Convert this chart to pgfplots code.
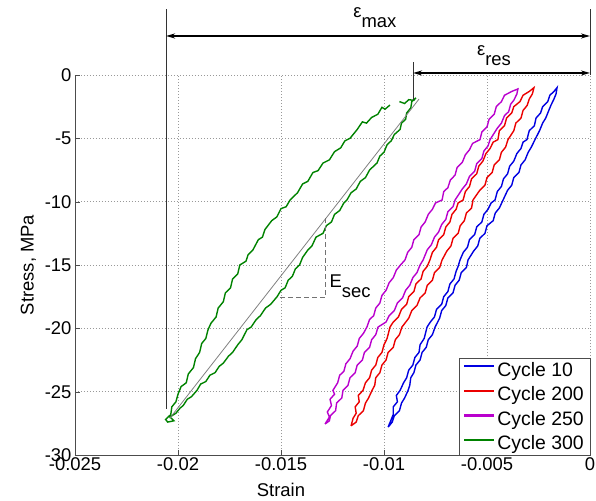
\documentclass[border=0pt]{standalone}
\usepackage{pgfplots}
\pgfplotsset{compat=1.18}
\usepackage{fontspec}
\setmainfont{Liberation Sans}
\usetikzlibrary{arrows.meta}

\definecolor{cblue}{RGB}{0,0,225}
\definecolor{cred}{RGB}{235,0,0}
\definecolor{cmag}{RGB}{185,0,205}
\definecolor{cgreen}{RGB}{0,130,0}

\newcommand{\lbl}{\fontsize{18.5}{21}\selectfont}
\newcommand{\leg}{\fontsize{19.5}{22}\selectfont}

\begin{document}
\begin{tikzpicture}
\begin{axis}[
    at={(0,0)}, anchor=south west,
    scale only axis,
    width=515bp, height=380bp,
    xmin=-0.025, xmax=0,
    ymin=-30, ymax=0,
    axis lines=left,
    axis line style={-, black!70},
    tick align=inside,
    major tick length=5bp,
    tick style={black!70},
    scaled x ticks=false,
    xtick={-0.025,-0.02,-0.015,-0.01,-0.005,0},
    xticklabels={-0.025,-0.02,-0.015,-0.01,-0.005,0},
    ytick={-30,-25,-20,-15,-10,-5,0},
    yticklabels={-30,-25,-20,-15,-10,-5,0},
    tick label style={font=\lbl},
    xticklabel style={yshift=1bp},
    grid=major,
    grid style={black!40, dash pattern=on 1bp off 2bp, line width=0.6bp},
    xlabel={Strain},
    ylabel={Stress, MPa},
    label style={font=\lbl},
    xlabel style={at={(axis description cs:0.40,0)}, anchor=north, yshift=-25bp},
    ylabel style={yshift=2bp},
    clip=false,
    legend style={at={(1,0)}, anchor=south east, draw=black!70, fill=white,
        font=\leg, row sep=5bp, inner xsep=4bp, inner ysep=1.5bp},
    legend cell align=left,
    legend image code/.code={\draw[#1, line width=2.2bp] (0bp,3.5bp) -- (30bp,3.5bp);},
    every axis plot/.append style={line width=1.4bp},
]
% Cycle 10
\addplot[cblue] coordinates {
(-0.00980,-27.80) (-0.00965,-27.20) (-0.00955,-26.80) (-0.00955,-26.20) (-0.00935,-25.80) (-0.00940,-25.30)
(-0.00922,-24.90) (-0.00905,-24.30) (-0.00890,-23.90) (-0.00880,-23.30) (-0.00860,-22.90) (-0.00850,-22.30)
(-0.00830,-21.90) (-0.00825,-21.30) (-0.00805,-20.80) (-0.00791,-19.90) (-0.00775,-19.50) (-0.00755,-19.10)
(-0.00745,-18.50) (-0.00720,-18.10) (-0.00710,-17.50) (-0.00690,-17.10) (-0.00680,-16.50) (-0.00660,-16.10)
(-0.00650,-15.50) (-0.00640,-15.10) (-0.00631,-14.60) (-0.00615,-14.00) (-0.00595,-13.60) (-0.00585,-13.00)
(-0.00560,-12.60) (-0.00550,-12.00) (-0.00525,-11.60) (-0.00515,-11.00) (-0.00495,-10.60) (-0.00480,-10.10)
(-0.00461,-9.87) (-0.00450,-9.20) (-0.00430,-8.80) (-0.00420,-8.20) (-0.00400,-7.80) (-0.00390,-7.20)
(-0.00370,-6.80) (-0.00355,-6.20) (-0.00335,-5.80) (-0.00325,-5.30) (-0.00306,-5.10) (-0.00295,-4.40)
(-0.00270,-4.00) (-0.00262,-3.40) (-0.00240,-3.00) (-0.00230,-2.50) (-0.00205,-2.10) (-0.00195,-1.60)
(-0.00175,-1.30) (-0.00160,-1.00)
(-0.00165,-1.50) (-0.00175,-1.90) (-0.00190,-2.40) (-0.00200,-2.80) (-0.00215,-3.40) (-0.00230,-3.80)
(-0.00245,-4.40) (-0.00267,-5.10) (-0.00285,-5.70) (-0.00300,-6.10) (-0.00315,-6.70) (-0.00335,-7.10)
(-0.00345,-7.70) (-0.00370,-8.10) (-0.00380,-8.70) (-0.00400,-9.10) (-0.00422,-9.87) (-0.00440,-10.50)
(-0.00460,-10.90) (-0.00470,-11.50) (-0.00500,-11.90) (-0.00510,-12.50) (-0.00535,-12.90) (-0.00545,-13.50)
(-0.00565,-13.90) (-0.00592,-14.60) (-0.00600,-15.20) (-0.00625,-15.60) (-0.00635,-16.20) (-0.00655,-16.60)
(-0.00665,-17.20) (-0.00690,-17.60) (-0.00700,-18.20) (-0.00720,-18.60) (-0.00730,-19.20) (-0.00752,-19.90)
(-0.00765,-20.50) (-0.00785,-20.90) (-0.00795,-21.50) (-0.00815,-21.90) (-0.00825,-22.50) (-0.00845,-22.90)
(-0.00855,-23.50) (-0.00870,-23.90) (-0.00875,-24.50) (-0.00883,-24.90) (-0.00900,-25.50) (-0.00915,-25.90)
(-0.00925,-26.50) (-0.00950,-26.90) (-0.00960,-27.40) (-0.00980,-27.80)
};
\addlegendentry{Cycle 10}
% Cycle 200
\addplot[cred] coordinates {
(-0.01160,-27.70) (-0.01150,-27.10) (-0.01135,-26.70) (-0.01140,-26.20) (-0.01120,-25.80) (-0.01125,-25.30)
(-0.01102,-24.90) (-0.01090,-24.30) (-0.01070,-23.90) (-0.01060,-23.30) (-0.01040,-22.90) (-0.01030,-22.30)
(-0.01010,-21.90) (-0.01000,-21.30) (-0.00985,-20.80) (-0.00971,-19.90) (-0.00955,-19.50) (-0.00930,-19.10)
(-0.00915,-18.50) (-0.00890,-18.10) (-0.00880,-17.50) (-0.00855,-17.10) (-0.00845,-16.50) (-0.00820,-16.10)
(-0.00810,-15.50) (-0.00790,-15.10) (-0.00777,-14.60) (-0.00765,-14.00) (-0.00745,-13.60) (-0.00735,-13.00)
(-0.00710,-12.60) (-0.00700,-12.00) (-0.00680,-11.60) (-0.00670,-11.00) (-0.00650,-10.60) (-0.00640,-10.10)
(-0.00616,-9.87) (-0.00605,-9.20) (-0.00585,-8.80) (-0.00575,-8.20) (-0.00550,-7.80) (-0.00540,-7.20)
(-0.00520,-6.80) (-0.00505,-6.20) (-0.00485,-5.80) (-0.00470,-5.30) (-0.00447,-5.10) (-0.00440,-4.40)
(-0.00415,-4.00) (-0.00405,-3.40) (-0.00380,-3.00) (-0.00370,-2.50) (-0.00340,-2.10) (-0.00325,-1.60)
(-0.00295,-1.30) (-0.00272,-1.00)
(-0.00280,-1.50) (-0.00295,-1.90) (-0.00305,-2.40) (-0.00325,-2.80) (-0.00335,-3.40) (-0.00360,-3.80)
(-0.00370,-4.40) (-0.00398,-5.10) (-0.00410,-5.70) (-0.00430,-6.10) (-0.00440,-6.70) (-0.00465,-7.10)
(-0.00475,-7.70) (-0.00500,-8.10) (-0.00510,-8.70) (-0.00535,-9.10) (-0.00568,-9.87) (-0.00575,-10.50)
(-0.00600,-10.90) (-0.00610,-11.50) (-0.00630,-11.90) (-0.00640,-12.50) (-0.00665,-12.90) (-0.00675,-13.50)
(-0.00695,-13.90) (-0.00718,-14.60) (-0.00730,-15.20) (-0.00755,-15.60) (-0.00765,-16.20) (-0.00790,-16.60)
(-0.00800,-17.20) (-0.00825,-17.60) (-0.00840,-18.20) (-0.00865,-18.60) (-0.00880,-19.20) (-0.00913,-19.90)
(-0.00925,-20.50) (-0.00945,-20.90) (-0.00955,-21.50) (-0.00980,-21.90) (-0.00990,-22.50) (-0.01010,-22.90)
(-0.01020,-23.50) (-0.01040,-23.90) (-0.01045,-24.50) (-0.01058,-24.90) (-0.01075,-25.50) (-0.01090,-25.90)
(-0.01100,-26.50) (-0.01125,-26.90) (-0.01135,-27.40) (-0.01160,-27.70)
};
\addlegendentry{Cycle 200}
% Cycle 250
\addplot[cmag] coordinates {
(-0.01286,-27.55) (-0.01265,-27.00) (-0.01275,-26.60) (-0.01255,-26.10) (-0.01262,-25.60) (-0.01240,-25.20)
(-0.01248,-24.90) (-0.01225,-24.30) (-0.01215,-23.70) (-0.01195,-23.40) (-0.01185,-22.80) (-0.01165,-22.40)
(-0.01150,-21.80) (-0.01130,-21.40) (-0.01120,-20.80) (-0.01100,-20.40) (-0.01083,-19.90) (-0.01070,-19.30)
(-0.01050,-19.00) (-0.01040,-18.40) (-0.01020,-18.00) (-0.01010,-17.40) (-0.00990,-17.00) (-0.00975,-16.40)
(-0.00955,-16.00) (-0.00940,-15.40) (-0.00920,-15.00) (-0.00898,-14.60) (-0.00885,-14.00) (-0.00865,-13.60)
(-0.00855,-13.00) (-0.00830,-12.60) (-0.00820,-12.00) (-0.00800,-11.60) (-0.00785,-11.00) (-0.00765,-10.60)
(-0.00750,-10.10) (-0.00718,-9.87) (-0.00710,-9.20) (-0.00690,-8.90) (-0.00678,-8.30) (-0.00655,-7.90)
(-0.00645,-7.30) (-0.00620,-6.90) (-0.00605,-6.30) (-0.00585,-5.90) (-0.00570,-5.40) (-0.00534,-5.10)
(-0.00525,-4.50) (-0.00500,-4.10) (-0.00490,-3.50) (-0.00465,-3.10) (-0.00455,-2.50) (-0.00430,-2.10)
(-0.00415,-1.60) (-0.00380,-1.30) (-0.00350,-1.10)
(-0.00355,-1.50) (-0.00370,-2.00) (-0.00385,-2.30) (-0.00395,-2.90) (-0.00415,-3.20) (-0.00430,-3.80)
(-0.00450,-4.20) (-0.00485,-5.10) (-0.00495,-5.60) (-0.00515,-6.00) (-0.00525,-6.60) (-0.00550,-7.00)
(-0.00560,-7.60) (-0.00585,-8.00) (-0.00600,-8.60) (-0.00620,-9.00) (-0.00655,-9.87) (-0.00665,-10.40)
(-0.00690,-10.80) (-0.00700,-11.40) (-0.00720,-11.80) (-0.00735,-12.40) (-0.00755,-12.80) (-0.00770,-13.40)
(-0.00790,-13.80) (-0.00810,-14.60) (-0.00825,-15.00) (-0.00840,-15.60) (-0.00860,-16.00) (-0.00875,-16.60)
(-0.00895,-17.00) (-0.00910,-17.60) (-0.00935,-18.00) (-0.00950,-18.60) (-0.00975,-19.00) (-0.00990,-19.50)
(-0.01029,-19.90) (-0.01040,-20.50) (-0.01060,-20.90) (-0.01070,-21.50) (-0.01095,-21.90) (-0.01105,-22.50)
(-0.01130,-22.90) (-0.01140,-23.50) (-0.01165,-23.90) (-0.01175,-24.50) (-0.01199,-24.90) (-0.01205,-25.50)
(-0.01230,-25.90) (-0.01235,-26.50) (-0.01260,-26.90) (-0.01265,-27.30) (-0.01286,-27.55)
};
\addlegendentry{Cycle 250}
% Cycle 300
\addplot[cgreen] coordinates {
(-0.00971,-2.37) (-0.00995,-2.70) (-0.01010,-2.55) (-0.01030,-3.10) (-0.01060,-3.35) (-0.01085,-3.80)
(-0.01105,-3.70) (-0.01130,-4.30) (-0.01165,-5.00) (-0.01190,-5.20) (-0.01210,-5.75) (-0.01240,-6.05)
(-0.01265,-6.70) (-0.01296,-6.95) (-0.01320,-7.55) (-0.01345,-7.70) (-0.01370,-8.40) (-0.01395,-8.60)
(-0.01420,-9.30) (-0.01456,-9.87) (-0.01475,-10.40) (-0.01500,-10.55) (-0.01520,-11.20) (-0.01545,-11.50)
(-0.01578,-12.20) (-0.01590,-12.80) (-0.01610,-13.00) (-0.01636,-13.80) (-0.01660,-14.20) (-0.01670,-14.70)
(-0.01700,-15.00) (-0.01710,-15.70) (-0.01735,-16.10) (-0.01745,-16.80) (-0.01770,-17.20) (-0.01780,-17.90)
(-0.01805,-18.40) (-0.01815,-19.10) (-0.01840,-19.60) (-0.01854,-20.10) (-0.01865,-20.80) (-0.01885,-21.20)
(-0.01895,-21.90) (-0.01915,-22.40) (-0.01925,-23.10) (-0.01950,-23.60) (-0.01960,-24.30) (-0.01985,-24.60)
(-0.02000,-25.20) (-0.02010,-25.80) (-0.02030,-26.20) (-0.02035,-26.80) (-0.02060,-27.20) (-0.02050,-27.40)
(-0.02020,-27.30)
(-0.02039,-27.00) (-0.02010,-26.70) (-0.01990,-26.30) (-0.01975,-26.10) (-0.01955,-25.60) (-0.01935,-25.40)
(-0.01908,-24.90) (-0.01890,-24.40) (-0.01865,-24.20) (-0.01845,-23.70) (-0.01820,-23.50) (-0.01800,-23.00)
(-0.01780,-22.75) (-0.01755,-22.20) (-0.01735,-21.90) (-0.01710,-21.30) (-0.01690,-20.90) (-0.01665,-20.10)
(-0.01645,-19.90) (-0.01620,-19.30) (-0.01600,-19.00) (-0.01575,-18.40) (-0.01550,-18.10) (-0.01519,-17.50)
(-0.01500,-17.00) (-0.01480,-16.80) (-0.01465,-16.20) (-0.01445,-15.90) (-0.01430,-15.30) (-0.01410,-15.00)
(-0.01395,-14.40) (-0.01369,-13.80) (-0.01350,-13.50) (-0.01330,-12.80) (-0.01296,-12.50) (-0.01280,-11.90)
(-0.01255,-11.60) (-0.01240,-11.00) (-0.01215,-10.70) (-0.01195,-10.10) (-0.01180,-9.87) (-0.01160,-9.30)
(-0.01135,-9.00) (-0.01115,-8.40) (-0.01090,-8.10) (-0.01070,-7.50) (-0.01034,-6.95) (-0.01020,-6.40)
(-0.01000,-6.10) (-0.00985,-5.50) (-0.00965,-5.20) (-0.00950,-4.70) (-0.00922,-4.30) (-0.00915,-3.80)
(-0.00895,-3.50) (-0.00890,-3.00) (-0.00870,-2.60) (-0.00865,-2.10) (-0.00845,-1.80) (-0.00855,-2.00)
(-0.00880,-1.95) (-0.00900,-2.25) (-0.00925,-2.10)
};
\addlegendentry{Cycle 300}
% secant line
\addplot[black!50, line width=0.8bp, forget plot] coordinates {(-0.0204,-27.1) (-0.0083,-1.9)};
% E_sec triangle
\addplot[black!55, line width=1.1bp, dash pattern=on 5bp off 3bp, forget plot] coordinates {
(-0.01286,-11.3) (-0.01286,-17.6) (-0.01515,-17.6)};
\node[font=\lbl, anchor=west, inner sep=0pt] at (axis cs:-0.01265,-16.7) {E\raisebox{-0.55em}{sec}};
% strain annotations
\draw[black!80, line width=0.8bp] (axis cs:-0.02058,5.2) -- (axis cs:-0.02058,-26.4);
\draw[black!80, line width=0.8bp] (axis cs:0,5.2) -- (axis cs:0,0);
\draw[black!80, line width=0.8bp] (axis cs:-0.00859,1.0) -- (axis cs:-0.00859,-2.0);
\draw[{Stealth[length=9bp,width=5bp]}-{Stealth[length=9bp,width=5bp]}, line width=1.6bp]
    (axis cs:-0.02058,3.08) -- (axis cs:0,3.08);
\draw[{Stealth[length=9bp,width=5bp]}-{Stealth[length=9bp,width=5bp]}, line width=1.6bp]
    (axis cs:-0.00859,0.16) -- (axis cs:0,0.16);
\node[font=\lbl, inner sep=0pt] at (axis cs:-0.01044,4.5) {ε\raisebox{-0.55em}{max}};
\node[font=\lbl, inner sep=0pt] at (axis cs:-0.00466,1.5) {ε\raisebox{-0.55em}{res}};
\end{axis}
\pgfresetboundingbox
\path[use as bounding box] (-75bp,-46bp) rectangle (521bp,455bp);
\end{tikzpicture}
\end{document}
